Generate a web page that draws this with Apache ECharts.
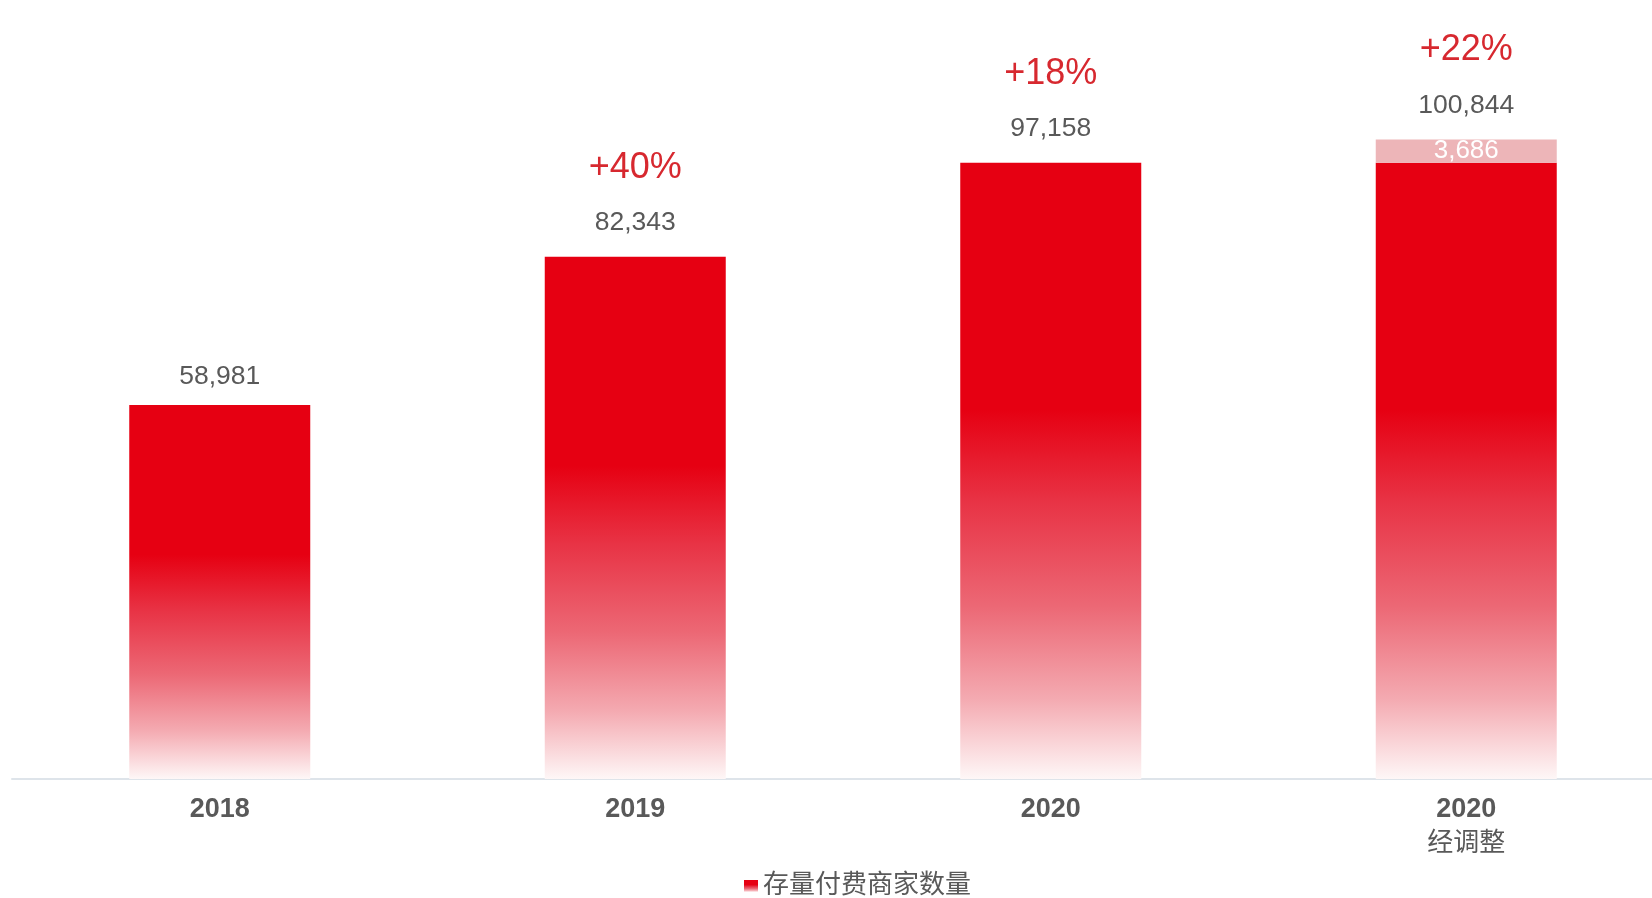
<!DOCTYPE html>
<html>
<head>
<meta charset="utf-8">
<style>
html,body{margin:0;padding:0;background:#fff;}
#c{width:1652px;height:898px;}
</style>
<script src="https://cdn.jsdelivr.net/npm/echarts@6/dist/echarts.min.js"></script>
</head>
<body>
<div id="c"></div>
<script>
const categories = ['2018', '2019', '2020', '2020'];
const categorySubLabels = ['', '', '', '经调整'];
const merchants = [58981, 82343, 97158, 97158];
const adjustment = [0, 0, 0, 3686];
const growth = ['', '+40%', '+18%', '+22%'];
const totals = [58981, 82343, 97158, 100844];
const seriesName = '存量付费商家数量';

const FONT = '"Liberation Sans", Arial, "Noto Sans CJK SC", sans-serif';
const fmt = n => n.toLocaleString('en-US');

const grad = {
  type: 'linear', x: 0, y: 0, x2: 0, y2: 1,
  colorStops: [
    {offset: 0, color: '#E60012'},
    {offset: 0.4, color: '#E60012'},
    {offset: 0.55, color: '#E83345'},
    {offset: 0.72, color: '#EC6875'},
    {offset: 0.87, color: '#F4AAB1'},
    {offset: 1, color: '#FEF7F7'}
  ]
};

const chart = echarts.init(document.getElementById('c'));
chart.setOption({
  animation: false,
  backgroundColor: '#ffffff',
  textStyle: {fontFamily: FONT},
  grid: {left: 12, right: -22, top: 18, bottom: 119, containLabel: false, outerBoundsMode: 'none'},
  legend: {
    data: [seriesName],
    left: 739, top: 868,
    icon: 'rect', itemWidth: 14, itemHeight: 12,
    textStyle: {fontSize: 26, color: '#595959', fontFamily: FONT}
  },
  xAxis: {
    type: 'category',
    data: categories.map((c, i) => categorySubLabels[i] ? c + '\n' + categorySubLabels[i] : c),
    axisLine: {show: true, lineStyle: {color: '#DEE4EA', width: 2}},
    axisTick: {show: false},
    axisLabel: {
      margin: 14,
      formatter: function (v) {
        const parts = v.split('\n');
        let s = '{y|' + parts[0] + '}';
        if (parts[1]) s += '\n{s|' + parts[1] + '}';
        return s;
      },
      rich: {
        y: {fontSize: 27, fontWeight: 'bold', color: '#595959', lineHeight: 34, fontFamily: FONT},
        s: {fontSize: 26, color: '#595959', lineHeight: 34, fontFamily: FONT}
      }
    }
  },
  yAxis: {type: 'value', min: 0, max: 120000, show: false, splitLine: {show: false}},
  series: [
    {
      name: seriesName,
      type: 'bar',
      stack: 'a',
      barWidth: 181,
      data: merchants,
      itemStyle: {color: grad}
    },
    {
      name: '调整',
      type: 'bar',
      stack: 'a',
      barWidth: 181,
      data: adjustment,
      itemStyle: {color: '#EDB5B8'},
      label: {
        show: true,
        position: 'inside',
        formatter: p => p.value ? fmt(p.value) : '',
        color: '#ffffff', fontSize: 26, fontFamily: FONT
      }
    },
    {
      name: 'labels',
      type: 'bar',
      stack: 'a',
      barWidth: 181,
      data: totals.map((t, i) => ({value: 0, label: {distance: i === 0 ? 13 : 19}})),
      itemStyle: {color: 'transparent'},
      label: {
        show: true,
        position: 'top',
        distance: 19,
        formatter: p => {
          const i = p.dataIndex;
          let s = '';
          if (growth[i]) s += '{p|' + growth[i] + '}\n';
          s += '{v|' + fmt(totals[i]) + '}';
          return s;
        },
        rich: {
          p: {fontSize: 36, color: '#D7282F', lineHeight: 80, fontFamily: FONT},
          v: {fontSize: 26.5, color: '#595959', lineHeight: 30, fontFamily: FONT}
        }
      }
    }
  ]
});
</script>
</body>
</html>
